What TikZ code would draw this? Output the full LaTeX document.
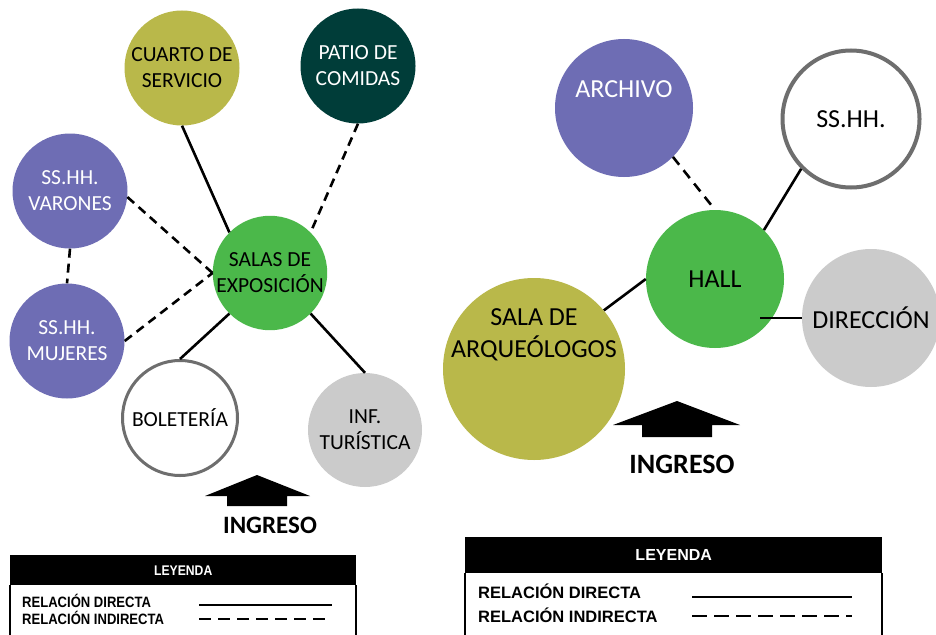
\documentclass[tikz,border=0pt]{standalone}
\usepackage{fontspec}
\setmainfont{Carlito}
\newfontfamily\legendfont{Liberation Sans}
\newfontfamily\legendnarrow[FakeStretch=0.87]{Liberation Sans}
\usetikzlibrary{positioning}
\definecolor{olivo}{HTML}{B9B84A}
\definecolor{petroleo}{HTML}{003D39}
\definecolor{lila}{HTML}{6E6DB4}
\definecolor{verde}{HTML}{4BB84A}
\definecolor{gris}{HTML}{CBCBCB}
\definecolor{borde}{HTML}{6E6E6E}
\tikzset{
    room/.style={circle,inner sep=0pt,minimum size=115pt,align=center,font=\fontsize{21.5}{26}\selectfont},
    bigroom/.style={circle,inner sep=0pt,minimum size=138pt,align=center,font=\fontsize{26}{32}\selectfont},
    hollow/.style={fill=white,draw=borde,line width=3pt},
    direct/.style={line width=2.6pt},
    indirect/.style={line width=2.6pt,dash pattern=on 9pt off 6pt},
    ingreso/.style={inner sep=0pt,font=\bfseries\fontsize{25}{30}\selectfont},
    leghead/.style={fill=black,text=white,inner sep=0pt,anchor=north west},
    legtext/.style={inner sep=0pt,anchor=base west}
}

\begin{document}
\begin{tikzpicture}[x=1pt,y=-1pt]
    \fill[white] (0,0) rectangle (936,634);
    \useasboundingbox (0,0) rectangle (936,634);

    % salas de exposicion
    \node[room,fill=olivo] (cuarto) at (182,68) {CUARTO DE\\SERVICIO};
    \node[room,fill=petroleo,text=white] (patio) at (358,66) {PATIO DE\\COMIDAS};
    \node[room,fill=lila,text=white] (varones) at (70,191) {SS.HH.\\VARONES};
    \node[room,fill=verde,minimum size=114pt] (salas) at (270,273) {SALAS DE\\EXPOSICIÓN};
    \node[room,fill=lila,text=white] (mujeres) at (67,341) {SS.HH.\\MUJERES};
    \node[room,hollow] (boleteria) at (180,418) {BOLETERÍA};
    \node[room,fill=gris,minimum size=114pt] (turistica) at (365,430) {INF.\\TURÍSTICA};

    \draw[direct] (cuarto.south) -- (salas.135);
    \draw[indirect] (patio.south) -- (salas.45);
    \draw[indirect] (varones.-6) -- (salas.west);
    \draw[indirect] (mujeres.east) -- (salas.west);
    \draw[indirect] (varones.south) -- (mujeres.north);
    \draw[direct] (salas.225) -- (boleteria.north);
    \draw[direct] (salas.-45) -- (turistica.north);

    \fill (257,475) -- (310,496) -- (287,496) -- (287,506) -- (227,506) -- (227,496) -- (205,496) -- cycle;
    \node[ingreso] (ingA) at (270,525) {INGRESO};

    % administracion
    \node[bigroom,fill=lila,label={[text=white,yshift=19pt,font=\fontsize{26}{32}\selectfont]center:ARCHIVO}] (archivo) at (624,108) {};
    \node[bigroom,hollow,line width=4pt,minimum size=137pt] (sshh) at (851,119) {SS.HH.};
    \node[bigroom,fill=verde] (hall) at (715,279) {HALL};
    \node[bigroom,fill=olivo,minimum size=182pt,label={[align=center,yshift=34pt,font=\fontsize{26}{32}\selectfont]center:SALA DE\\ARQUEÓLOGOS}] (arqueo) at (534,369) {};
    \node[bigroom,fill=gris] (direccion) at (871,318) {DIRECCIÓN};

    \coordinate (hallin) at (760,318);
    \draw[indirect,dash pattern=on 10pt off 7pt] (archivo.-45) -- (hall.north);
    \draw[direct] (sshh.225) -- (hall.45);
    \draw[direct] (hall.west) -- (arqueo.40);
    \draw[direct] (hallin) -- (direccion.west);

    \fill (677,401) -- (740,425) -- (712,425) -- (712,437) -- (642,437) -- (642,425) -- (613,425) -- cycle;
    \node[ingreso,font=\bfseries\fontsize{28}{34}\selectfont] (ingB) at (682,464) {INGRESO};

    % leyendas
    \node[leghead,minimum width=346pt,minimum height=30pt,font=\legendnarrow\bfseries\fontsize{14}{16}\selectfont] (leyA) at (10,555) {LEYENDA};
    \draw[line width=1.6pt] (leyA.south west) -- ++(0,60);
    \draw[line width=2pt] (leyA.south east) -- ++(0,60);
    \node[legtext,font=\legendnarrow\bfseries\fontsize{15}{18}\selectfont] (dirA) at (22,607) {RELACIÓN DIRECTA};
    \node[legtext,font=\legendnarrow\bfseries\fontsize{15}{18}\selectfont] (indA) at (22,624) {RELACIÓN INDIRECTA};
    \coordinate (dirAa) at (199,605); \coordinate (dirAb) at (332,605);
    \coordinate (indAa) at (199,619); \coordinate (indAb) at (332,619);
    \draw[line width=2pt] (dirAa) -- (dirAb);
    \draw[line width=2pt,dash pattern=on 12pt off 7pt] (indAa) -- (indAb);

    \node[leghead,minimum width=417pt,minimum height=36pt,font=\legendfont\bfseries\fontsize{16}{19}\selectfont] (leyB) at (465,537) {LEYENDA};
    \draw[line width=2pt] (leyB.south west) -- ++(0,70);
    \draw[line width=2pt] (leyB.south east) -- ++(0,70);
    \node[legtext,font=\legendfont\bfseries\fontsize{16.5}{19}\selectfont] (dirB) at (478,598) {RELACIÓN DIRECTA};
    \node[legtext,font=\legendfont\bfseries\fontsize{16.5}{19}\selectfont] (indB) at (478,622) {RELACIÓN INDIRECTA};
    \coordinate (dirBa) at (692,597); \coordinate (dirBb) at (852,597);
    \coordinate (indBa) at (692,616); \coordinate (indBb) at (852,616);
    \draw[line width=2.5pt] (dirBa) -- (dirBb);
    \draw[line width=2.5pt,dash pattern=on 15pt off 7pt] (indBa) -- (indBb);
\end{tikzpicture}
\end{document}
